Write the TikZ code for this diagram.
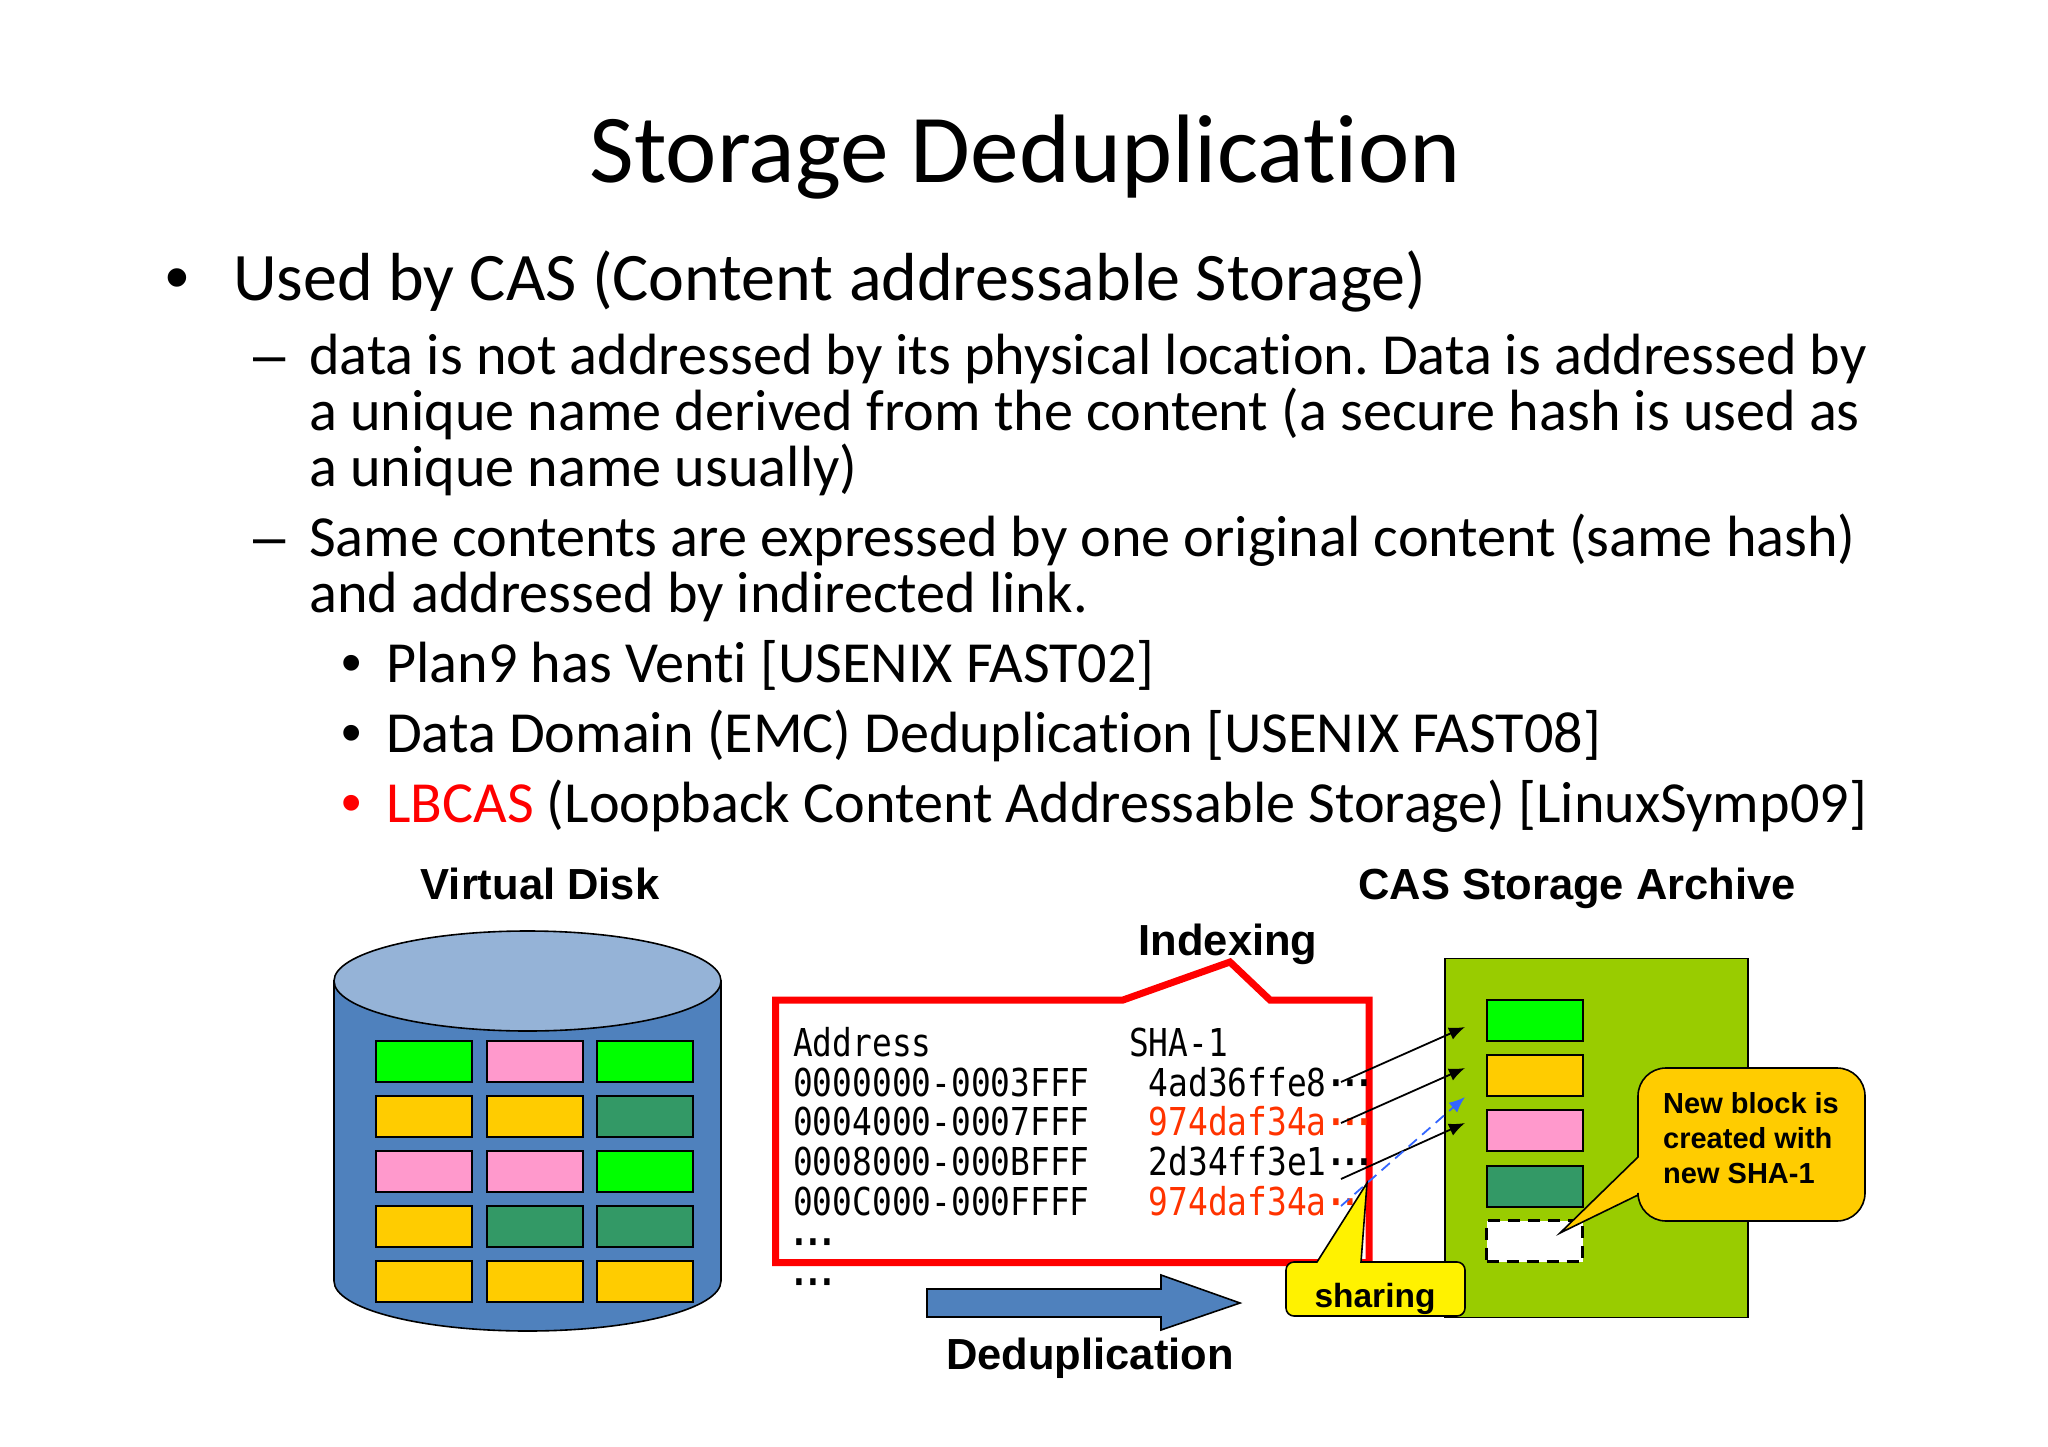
\documentclass[tikz,border=0pt]{standalone}
\usepackage{fontspec}
\setmainfont[Ligatures=NoCommon]{Carlito}
\newfontfamily\labelfont{Liberation Sans}
\newfontfamily\tablefont[FakeStretch=0.855]{DejaVu Sans Mono}
\usetikzlibrary{arrows.meta}
\usetikzlibrary{shapes.geometric}

\definecolor{blockgreen}{HTML}{00FF00}
\definecolor{blockpink}{HTML}{FF99CC}
\definecolor{blockgold}{HTML}{FFCC00}
\definecolor{blockteal}{HTML}{339966}
\definecolor{diskblue}{HTML}{4F81BD}
\definecolor{disktop}{HTML}{95B3D7}
\definecolor{archivegreen}{HTML}{99CC00}
\definecolor{hashred}{HTML}{FF3300}
\definecolor{linkblue}{HTML}{3366FF}
\newcommand{\hashdots}{{\bfseries ·\kern-5.6pt·\kern-5.6pt·}}
\frenchspacing

\tikzset{
  lineone/.style={anchor=base west, inner sep=0pt, font=\fontsize{68}{68}\selectfont},
  linetwo/.style={anchor=base west, inner sep=0pt, font=\fontsize{58.2}{58.2}\selectfont},
  listmark/.style={anchor=base west, inner sep=0pt, font=\labelfont\fontsize{58}{58}\selectfont},
  heading/.style={anchor=base, inner sep=0pt, font=\labelfont\bfseries\fontsize{43.5}{43.5}\selectfont},
  calloutlabel/.style={anchor=base west, inner sep=0pt, font=\labelfont\bfseries\fontsize{29}{29}\selectfont},
  tablerow/.style={anchor=base west, inner sep=0pt, font=\tablefont\fontsize{38.4}{38.4}\selectfont},
  block/.style={draw=black, line width=2pt, minimum width=96pt, minimum height=41pt, inner sep=0pt},
  link/.style={-{Latex[length=16pt, width=13pt]}, line width=1.8pt},
}

\begin{document}
\begin{tikzpicture}[x=1pt, y=-1pt]
  \useasboundingbox (0,0) rectangle (2048,1447);

  % slide text
  \node[anchor=base, inner sep=0pt, font=\fontsize{97.3}{97.3}\selectfont] (title) at (1025,183) {Storage Deduplication};
  \node[listmark, font=\labelfont\fontsize{68}{68}\selectfont] (bullet1) at (165,301) {•};
  \node[lineone] (used) at (233,301) {Used by CAS (Content addressable Storage)};
  \node[listmark] (dash1) at (253,374) {–};
  \node[linetwo] (data1) at (309,374) {data is not addressed by its physical location. Data is addressed by};
  \node[linetwo] (data2) at (309,430) {a unique name derived from the content (a secure hash is used as};
  \node[linetwo] (data3) at (309,486) {a unique name usually)};
  \node[listmark] (dash2) at (253,556) {–};
  \node[linetwo] (same1) at (309,556) {Same contents are expressed by one original content (same hash)};
  \node[linetwo] (same2) at (309,612) {and addressed by indirected link.};
  \node[listmark] (bullet2) at (341,682) {•};
  \node[linetwo] (plan) at (386,682) {Plan9 has Venti [USENIX FAST02]};
  \node[listmark] (bullet3) at (341,752) {•};
  \node[linetwo] (domain) at (386,752) {Data Domain (EMC) Deduplication [USENIX FAST08]};
  \node[listmark, text=red] (bullet4) at (341,822) {•};
  \node[linetwo] (lbcas) at (386,822) {\textcolor{red}{LBCAS} (Loopback Content Addressable Storage) [LinuxSymp09]};

  % headings
  \node[heading] (disklabel) at (540,899) {Virtual Disk};
  \node[heading] (archivelabel) at (1577,899) {CAS Storage Archive};
  \node[heading] (indexlabel) at (1228,955) {Indexing};
  \node[heading] (deduplabel) at (1090,1369) {Deduplication};

  % virtual disk
  \draw[fill=diskblue, line width=1.6pt] (334,981) -- (334,1281) arc[start angle=180, end angle=0, x radius=193.5, y radius=50] -- (721,981) -- cycle;
  \node[draw, fill=disktop, ellipse, line width=1.6pt, minimum width=387pt, minimum height=100pt, inner sep=0pt] (disktopface) at (527.5,981) {};
  \foreach \name/\col/\x/\y in {
      a/blockgreen/424/1061.5, b/blockpink/534.5/1061.5, c/blockgreen/644.5/1061.5,
      d/blockgold/424/1116.5, e/blockgold/534.5/1116.5, f/blockteal/644.5/1116.5,
      g/blockpink/424/1171.5, h/blockpink/534.5/1171.5, i/blockgreen/644.5/1171.5,
      j/blockgold/424/1226.5, k/blockteal/534.5/1226.5, l/blockteal/644.5/1226.5,
      m/blockgold/424/1281.5, n/blockgold/534.5/1281.5, o/blockgold/644.5/1281.5} {
    \node[block, fill=\col] (disk\name) at (\x,\y) {};
  }

  % index table
  \draw[red, line width=7pt, miter limit=10] (775.5,1000) -- (1123,1000) -- (1230,962) -- (1270,1000) -- (1369,1000) -- (1369,1262.5) -- (775.5,1262.5) -- cycle;
  \node[tablerow] (addrhead) at (793,1056) {Address};
  \node[tablerow] (shahead) at (1129,1056) {SHA-1};
  \node[tablerow] (addr0) at (793,1096) {0000000-0003FFF};
  \node[tablerow] (addr1) at (793,1135) {0004000-0007FFF};
  \node[tablerow] (addr2) at (793,1175) {0008000-000BFFF};
  \node[tablerow] (addr3) at (793,1215) {000C000-000FFFF};
  \node[tablerow] (hash0) at (1148.5,1096) {4ad36ffe8\hashdots};
  \node[tablerow, text=hashred] (hash1) at (1148.5,1135) {974daf34a\hashdots};
  \node[tablerow] (hash2) at (1148.5,1175) {2d34ff3e1\hashdots};
  \node[tablerow, text=hashred] (hash3) at (1148.5,1215) {974daf34a\hashdots};
  \node[tablerow] (more0) at (789,1255) {\hashdots};
  \node[tablerow] (more1) at (789,1295) {\hashdots};

  % deduplication arrow
  \draw[fill=diskblue, line width=1.6pt] (927,1289) -- (1161,1289) -- (1161,1275) -- (1240,1303) -- (1161,1330) -- (1161,1317) -- (927,1317) -- cycle;

  % archive
  \node[draw, fill=archivegreen, line width=1.6pt, anchor=north west, minimum width=303pt, minimum height=359pt, inner sep=0pt] (archive) at (1444,957.5) {};
  \node[block, fill=blockgreen] (slot0) at (1534.5,1020) {};
  \node[block, fill=blockgold] (slot1) at (1534.5,1075.5) {};
  \node[block, fill=blockpink] (slot2) at (1534.5,1130.5) {};
  \node[block, fill=blockteal] (slot3) at (1534.5,1186) {};
  \node[block, fill=white, dash pattern=on 12pt off 8pt, line width=3.5pt] (slot4) at (1534.5,1241) {};

  % links
  \coordinate (from0) at (1341,1082);
  \coordinate (from1) at (1341,1123);
  \coordinate (from2) at (1341,1179);
  \coordinate (from3) at (1341,1206);
  \coordinate (to0) at (1465,1027);
  \coordinate (to1) at (1465,1068);
  \coordinate (to2) at (1465,1123);
  \coordinate (to3) at (1465,1097);
  \draw[link] (from0) -- (to0);
  \draw[link] (from1) -- (to1);
  \draw[link] (from2) -- (to2);
  \draw[link, linkblue, dash pattern=on 11pt off 7pt] (from3) -- (to3);

  % callouts
  \draw[fill=yellow, line width=1.6pt] (1317,1262) -- (1367,1183) -- (1361,1262) [rounded corners=8pt] -- (1465,1262) -- (1465,1316) -- (1286,1316) -- (1286,1262) [sharp corners] -- cycle;
  \node[anchor=base, inner sep=0pt, font=\labelfont\bfseries\fontsize{33.5}{33.5}\selectfont] (sharing) at (1375,1307) {sharing};

  \draw[fill=blockgold, line width=1.6pt] (1638,1157) -- (1560,1233) -- (1638,1195) [rounded corners=28pt] -- (1638,1221) -- (1865,1221) -- (1865,1068) -- (1638,1068) [sharp corners] -- cycle;
  \node[calloutlabel] (newblock0) at (1663,1113) {New block is};
  \node[calloutlabel] (newblock1) at (1663,1148) {created with};
  \node[calloutlabel] (newblock2) at (1663,1183) {new SHA-1};
\end{tikzpicture}
\end{document}
